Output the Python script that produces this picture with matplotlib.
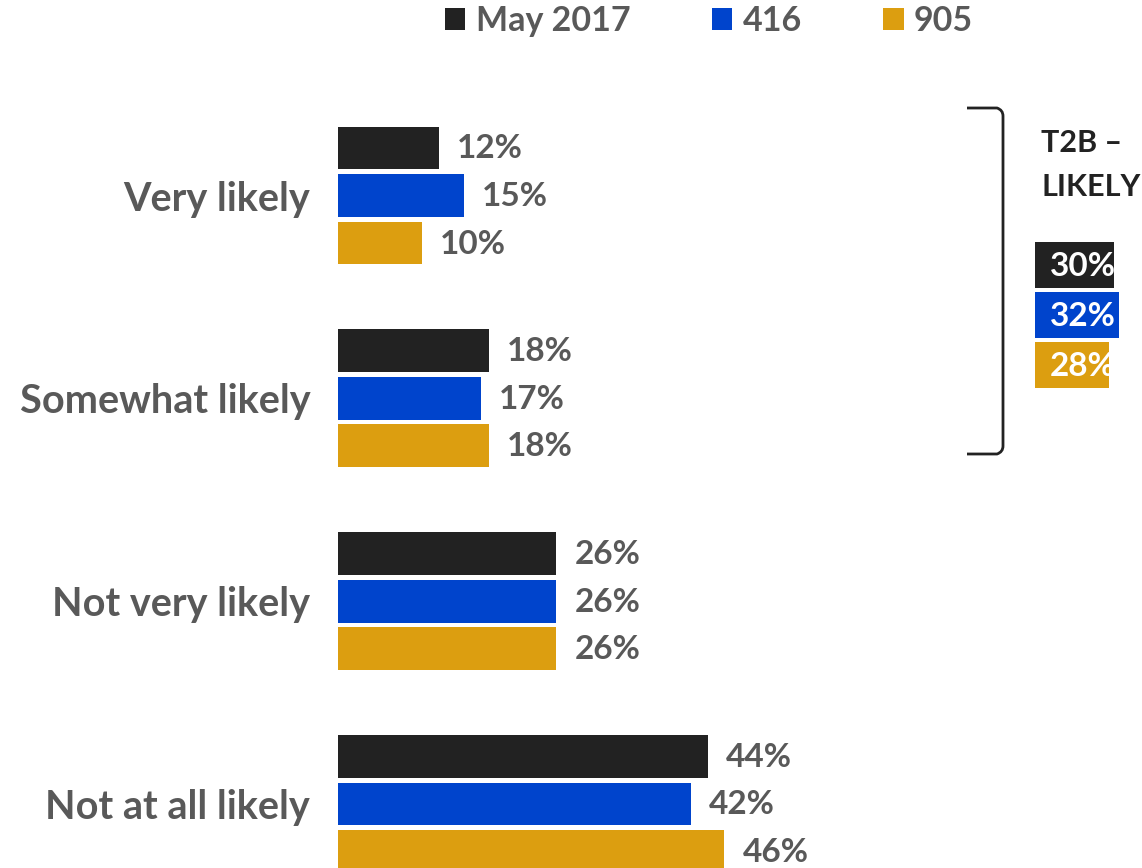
import matplotlib.pyplot as plt
from matplotlib.path import Path
from matplotlib.patches import PathPatch

plt.rcParams['font.family'] = ['Lato', 'DejaVu Sans']
plt.rcParams['font.weight'] = 'bold'

categories = ['Very likely', 'Somewhat likely', 'Not very likely', 'Not at all likely']
series = ['May 2017', '416', '905']
values = {
    'May 2017': [12, 18, 26, 44],
    '416': [15, 17, 26, 42],
    '905': [10, 18, 26, 46],
}
t2b_title = 'T2B \u2013\nLIKELY'
t2b_values = [30, 32, 28]

colors = ['#222222', '#0044CC', '#DC9E10']
gray = '#595959'

W, H = 1142, 868
fig = plt.figure(figsize=(W / 100, H / 100), dpi=100)

# main bars
px_per_pct = 8.4
pitch = 47.5
x0 = 338
ax = fig.add_axes([x0 / W, 0, (W - x0) / W, 1])
ax.set_xlim(0, (W - x0) / px_per_pct)
ax.set_ylim((H - 148) / pitch, -148 / pitch)

group_gap = 4.27
handles = []
for j, s in enumerate(series):
    ys = [i * group_gap + j for i in range(len(categories))]
    bars = ax.barh(ys, values[s], height=0.9, color=colors[j], label=s)
    handles.append(bars)
    for y, v in zip(ys, values[s]):
        ax.annotate(f'{v}%', (v, y), xytext=(18, -1), textcoords='offset pixels',
                    ha='left', va='center', fontsize=24, color=gray, fontweight='bold')

ax.set_yticks([i * group_gap + 1 for i in range(len(categories))])
ax.set_yticklabels(categories, fontsize=28.5, color=gray, fontweight='bold')
ax.tick_params(axis='y', length=0, pad=20)
ax.set_xticks([])
for sp in ax.spines.values():
    sp.set_visible(False)
ax.patch.set_alpha(0)

# legend
fig.legend(handles=handles, labels=series, loc='center', bbox_to_anchor=(709 / W, 1 - 21 / H),
           ncol=3, frameon=False, fontsize=24.5, labelcolor=gray,
           handlelength=0.6, handleheight=0.6, handletextpad=0.3, columnspacing=2.4)

# bracket
verts = [(967, 108), (997, 108), (1003, 110), (1003, 116),
         (1003, 446), (1003, 452), (997, 454), (967, 454)]
codes = [Path.MOVETO, Path.LINETO, Path.CURVE3, Path.CURVE3,
         Path.LINETO, Path.CURVE3, Path.CURVE3, Path.LINETO]
verts = [(x / W, 1 - y / H) for x, y in verts]
fig.add_artist(PathPatch(Path(verts, codes), fill=False, lw=2, edgecolor='#222222',
                         transform=fig.transFigure))

fig.text(1041 / W, 1 - 165 / H, t2b_title, ha='left', va='center', fontsize=22,
         color='#222222', fontweight='bold', linespacing=1.7)

# T2B boxes
t2b_px = 2.63
ax2 = fig.add_axes([1035 / W, 1 - 395 / H, (W - 1035) / W, 160 / H])
ax2.set_xlim(0, (W - 1035) / t2b_px)
ax2.set_ylim(2.6, -0.6)
for j, v in enumerate(t2b_values):
    b = ax2.barh(j, v, height=0.91, color=colors[j])[0]
    t = ax2.text(5.5, j + 0.03, f'{v}%', ha='left', va='center', fontsize=24,
                 color='white', fontweight='bold')
    t.set_clip_path(b)
ax2.axis('off')

fig.savefig('out.png', dpi=100)
